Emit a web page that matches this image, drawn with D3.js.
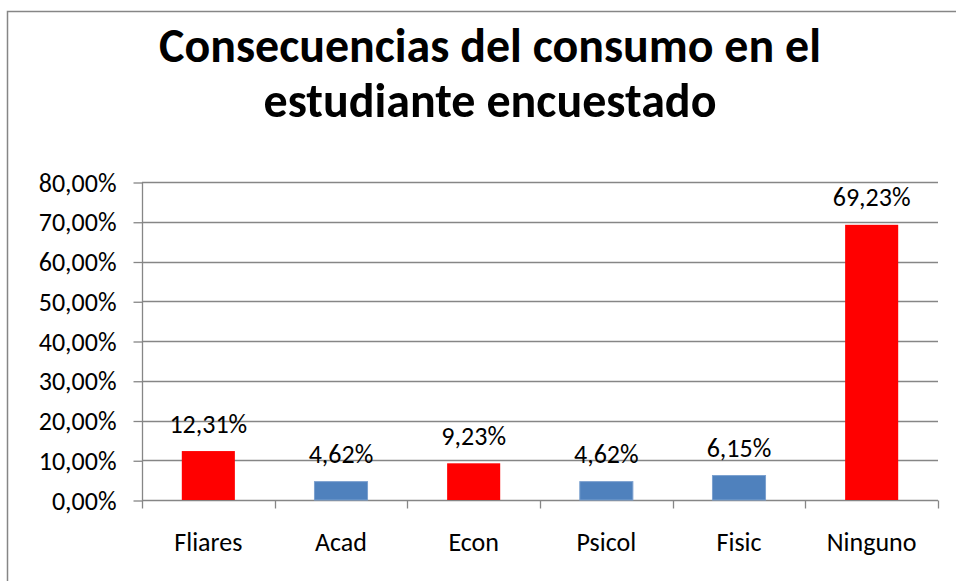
<!DOCTYPE html>
<html><head><meta charset="utf-8">
<script src="https://cdn.jsdelivr.net/npm/d3@7"></script>
<style>
html,body{margin:0;padding:0;background:#fff;}
svg{display:block;}
text{font-family:Carlito, Calibri, Lato, "Open Sans", sans-serif;fill:#000;}
</style></head>
<body>
<svg id="chart" width="956" height="581"></svg>
<script>
const titleLines = ["Consecuencias del consumo en el", "estudiante encuestado"];
const categories = ["Fliares", "Acad", "Econ", "Psicol", "Fisic", "Ninguno"];
const values = [12.31, 4.62, 9.23, 4.62, 6.15, 69.23];
const barColors = ["#FF0000", "#4F81BD", "#FF0000", "#4F81BD", "#4F81BD", "#FF0000"];
const yTicks = [0, 10, 20, 30, 40, 50, 60, 70, 80];

const svg = d3.select("#chart");
const fmt = v => d3.format(".2f")(v).replace(".", ",") + "%";
const FS = 26;

// outer chart border
svg.append("rect").attr("x", 7.5).attr("y", 11.5).attr("width", 1000).attr("height", 1000)
  .attr("fill", "none").attr("stroke", "#868686").attr("stroke-width", 1.5);

const plot = {left: 142, right: 938, top: 182, bottom: 500};
const x = d3.scaleBand().domain(categories).range([plot.left, plot.right]).paddingInner(0.6).paddingOuter(0.3);
const xb = d3.scaleBand().domain(categories).range([plot.left, plot.right]);
const y = d3.scaleLinear().domain([0, 80]).range([plot.bottom, plot.top]);

// title
const tW = [662, 453];
const tY = [62, 117];
titleLines.forEach((t, i) => {
  const el = svg.append("text").attr("x", 490).attr("y", tY[i]).attr("text-anchor", "middle")
    .attr("font-weight", "bold").attr("font-size", 40).text(t);
  const w = el.node().getComputedTextLength();
  el.attr("font-size", 40 * tW[i] / w);
});

// gridlines
svg.append("g").selectAll("line").data(yTicks.filter(d => d > 0)).join("line")
  .attr("x1", plot.left).attr("x2", plot.right)
  .attr("y1", d => Math.round(y(d)) + 0.5).attr("y2", d => Math.round(y(d)) + 0.5)
  .attr("stroke", "#868686").attr("stroke-width", 1.3);

// y axis
const yAxis = d3.axisLeft(y).tickValues(yTicks).tickSize(9).tickPadding(17).tickFormat(fmt);
const gy = svg.append("g").attr("transform", `translate(${plot.left + 0.5},0.5)`).call(yAxis);
gy.select("path.domain").attr("d", `M0,${plot.top}V${plot.bottom}`);
gy.selectAll("path,line").attr("stroke", "#868686").attr("stroke-width", 1.3);
gy.selectAll("text").attr("font-size", FS).attr("fill", "#000").attr("dy", "0.33em")
  .style("font-family", "Carlito, Calibri, Lato, sans-serif");

// x axis
const gx = svg.append("g").attr("transform", `translate(0,${plot.bottom + 0.5})`);
gx.append("line").attr("x1", plot.left).attr("x2", plot.right).attr("stroke", "#868686").attr("stroke-width", 1.3);
const bounds = categories.map(c => xb(c)).concat([plot.right]);
gx.selectAll("line.t").data(bounds).join("line").attr("class", "t")
  .attr("x1", d => Math.round(d) + 0.5).attr("x2", d => Math.round(d) + 0.5)
  .attr("y1", 0).attr("y2", 8).attr("stroke", "#868686").attr("stroke-width", 1.3);
gx.selectAll("text").data(categories).join("text")
  .attr("x", d => xb(d) + xb.bandwidth() / 2).attr("y", 50).attr("text-anchor", "middle")
  .attr("font-size", FS).text(d => d);

// bars
svg.append("g").selectAll("rect").data(values).join("rect")
  .attr("x", (d, i) => x(categories[i])).attr("width", x.bandwidth())
  .attr("y", d => y(d)).attr("height", d => y(0) - y(d))
  .attr("fill", (d, i) => barColors[i])
  .attr("stroke", (d, i) => barColors[i] === "#4F81BD" ? "#7BA0CF" : "none").attr("stroke-width", 1);

// value labels
svg.append("g").selectAll("text").data(values).join("text")
  .attr("x", (d, i) => xb(categories[i]) + xb.bandwidth() / 2)
  .attr("y", d => y(d) - 18.5).attr("text-anchor", "middle").attr("font-size", FS)
  .text(d => fmt(d));
</script>
</body></html>
